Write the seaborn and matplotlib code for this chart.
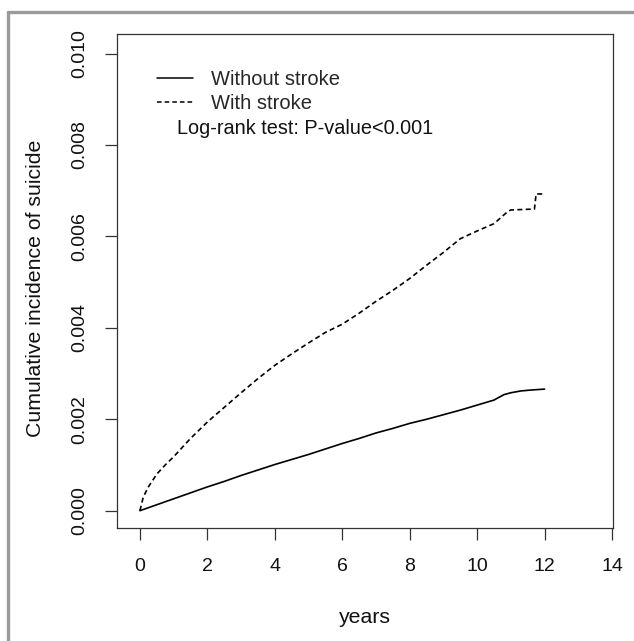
import numpy as np
import pandas as pd
import matplotlib
matplotlib.use('Agg')
import matplotlib.pyplot as plt
from matplotlib.lines import Line2D
import seaborn as sns

# cumulative incidence
years_without = [0, 0.5, 1, 1.5, 2, 2.5, 3, 3.5, 4, 4.5, 5, 5.5, 6, 6.5, 7, 7.5,
                 8, 8.5, 9, 9.5, 10, 10.5, 10.6, 10.8, 11, 11.3, 11.6, 12]
inc_without = [0, 0.00013, 0.00026, 0.00039, 0.00052, 0.00064, 0.00077, 0.00089,
               0.00101, 0.00112, 0.00123, 0.00135, 0.00147, 0.00158, 0.0017, 0.0018,
               0.00191, 0.002, 0.0021, 0.0022, 0.00231, 0.00242, 0.00246, 0.00254,
               0.00258, 0.00262, 0.00264, 0.00266]

years_with = [0, 0.1, 0.25, 0.5, 0.75, 1, 1.5, 2, 2.5, 3, 3.5, 4, 4.5, 5, 5.5, 6,
              6.5, 7, 7.5, 8, 8.5, 9, 9.5, 10, 10.5, 10.9, 11.0, 11.7, 11.75, 12]
inc_with = [0, 0.0003, 0.00052, 0.0008, 0.001, 0.00118, 0.00158, 0.00194, 0.00226,
            0.00258, 0.00289, 0.00318, 0.00343, 0.00367, 0.0039, 0.00408, 0.00432,
            0.00458, 0.00482, 0.00508, 0.00537, 0.00565, 0.00595, 0.00612, 0.00628,
            0.00654, 0.00658, 0.0066, 0.00693, 0.00693]

x_ticks = [0, 2, 4, 6, 8, 10, 12, 14]
y_ticks = [0.000, 0.002, 0.004, 0.006, 0.008, 0.010]

W, H = 634, 641

sns.set_style('white')
plt.rcParams['font.family'] = ['Liberation Sans', 'DejaVu Sans']

fig = plt.figure(figsize=(W / 100, H / 100), dpi=100)
ax = fig.add_axes([117 / W, 1 - 528 / H, (613 - 117) / W, (528 - 34) / H])

df_without = pd.DataFrame({'years': years_without, 'inc': inc_without})
df_with = pd.DataFrame({'years': years_with, 'inc': inc_with})

sns.lineplot(data=df_without, x='years', y='inc', ax=ax, color='black', linewidth=1.2)
sns.lineplot(data=df_with, x='years', y='inc', ax=ax, color='black', linewidth=1.2,
             linestyle=(0, (3, 2)))

ax.set_xlim(-0.68, 14.03)
ax.set_ylim(-0.000379, 0.01043)
ax.set_xticks(x_ticks)
ax.set_xticklabels([str(t) for t in x_ticks])
ax.set_yticks(y_ticks)
ax.set_yticklabels(['%.3f' % v for v in y_ticks], rotation=90, va='center')

ax.tick_params(axis='both', direction='out', length=8.5, width=0.9, color='#333333',
               labelsize=14, labelcolor='#111111', bottom=True, left=True)
ax.tick_params(axis='x', pad=13)
ax.tick_params(axis='y', pad=12)

for s in ax.spines.values():
    s.set_color('#333333')
    s.set_linewidth(0.9)

ax.set_xlabel('years', fontsize=15.3, color='#111111', labelpad=24)
ax.set_ylabel('Cumulative incidence of suicide', fontsize=15.3, color='#111111', labelpad=19)
ax.yaxis.label.set_y(0.485)

handles = [Line2D([], [], color='black', linewidth=1.1),
           Line2D([], [], color='black', linewidth=1.1, linestyle=(0, (3, 2)))]
ax.legend(handles, ['Without stroke', 'With stroke'], frameon=False, fontsize=14.5,
          loc='upper left', bbox_to_anchor=(157 / W, 1 - 70 / H),
          bbox_transform=fig.transFigure, borderpad=0, borderaxespad=0,
          handlelength=1.8, handletextpad=0.9, labelspacing=0.26)
ax.text(177 / W, 1 - 128 / H, 'Log-rank test: P-value<0.001', transform=fig.transFigure,
        fontsize=14.3, va='center', ha='left', color='#111111')

# gray frame around the figure (left and top edges)
fig.add_artist(Line2D([8 / W, 8 / W], [0, 1 - 11.5 / H], color='#9a9a9a', linewidth=2.4,
                      transform=fig.transFigure))
fig.add_artist(Line2D([8 / W, 1], [1 - 11.5 / H, 1 - 11.5 / H], color='#9a9a9a',
                      linewidth=2.4, transform=fig.transFigure))

fig.savefig('out.png', dpi=100)
